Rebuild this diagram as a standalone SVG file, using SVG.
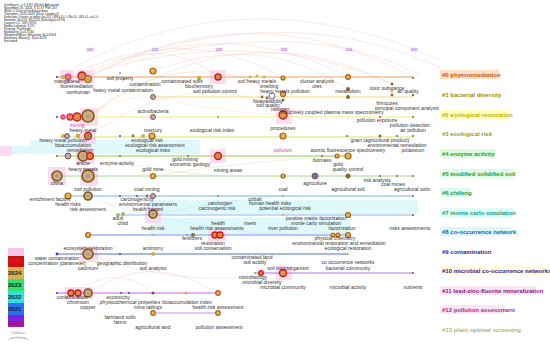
<svg xmlns="http://www.w3.org/2000/svg" width="550" height="347" viewBox="0 0 550 347">
<style>
text{font-family:"Liberation Sans",Arial,Helvetica,sans-serif}
.l{font-size:5px;fill:#333;text-anchor:middle}
.pk{fill:#e0409a}
.c{font-size:6px;font-weight:bold}
.yr{font-size:2.8px;fill:#9040d0;text-anchor:middle}
.info{font-size:3.2px;fill:#222}
.arc{fill:none;stroke:#f2c9bd;stroke-width:0.6;opacity:0.7}
.lnk{fill:none;stroke-width:0.5;opacity:0.45}
.tl{stroke-width:1.2;fill:none}
.hl{fill:#fbd6ee;opacity:0.85}
.band{fill:#dcf7fa;opacity:0.9}
.rr{fill:#e08a40;stroke:#c81818;stroke-width:1.3}
.or{fill:#dbb456;stroke:#b06010;stroke-width:1.2}
.br{fill:#cdb070;stroke:#7e5418;stroke-width:1.6}
.pr{fill:#c0a0d0;stroke:#8a5a30;stroke-width:1}
.ctr{fill:#a888d0}
.dot{fill:#8a6a38}
.yd{fill:#d0b048}
.bd{fill:#3838e0}
.leg{font-size:6px;font-weight:bold}
</style>

<g id="arcs">
<path class="arc" d="M88 77 Q250 -10 413 77"/>
<path class="arc" d="M88 77 Q220 10 348 77"/>
<path class="arc" d="M68 77 Q180 20 283 77"/>
<path class="arc" d="M82 77 Q160 30 218 77"/>
<path class="arc" d="M88 117 Q250 0 413 95"/>
<path class="arc" d="M57 77 Q240 -30 440 60"/>
<path class="arc" d="M120 60 Q300 0 445 70"/>
<path class="arc" d="M150 55 Q320 20 420 75"/>
<path class="arc" d="M100 70 Q260 25 392 84"/>
<path class="arc" d="M153 71 Q260 30 348 89"/>
<path class="arc" d="M88 117 Q180 40 283 94"/>
<path class="arc" d="M88 136 Q200 60 283 115"/>
<path class="arc" d="M90 293 Q150 250 218 293"/>
<path class="arc" d="M71 293 Q120 262 153 293"/>
</g>

<g id="bands">
<rect class="band" x="30" y="140" width="170" height="14"/>
<rect class="band" x="150" y="200" width="268" height="14"/>
<rect class="band" x="150" y="218" width="200" height="16"/>
<rect class="band" x="0" y="146" width="30" height="8" opacity="0.5"/>
<rect class="hl" x="60" y="70" width="14" height="14"/>
<rect class="hl" x="76" y="70" width="18" height="14"/>
<rect class="hl" x="210" y="70" width="16" height="14"/>
<rect class="hl" x="80" y="108" width="18" height="18"/>
<rect class="hl" x="276" y="108" width="16" height="16"/>
<rect class="hl" x="80" y="130" width="16" height="14"/>
<rect class="hl" x="76" y="148" width="18" height="16"/>
<rect class="hl" x="210" y="149" width="16" height="14"/>
<rect class="hl" x="48" y="167" width="18" height="18"/>
<rect class="hl" x="80" y="168" width="18" height="18"/>
<rect class="hl" x="145" y="207" width="16" height="16"/>
<rect class="hl" x="208" y="229" width="18" height="12"/>
<rect class="hl" x="80" y="246" width="18" height="16"/>
<rect class="hl" x="276" y="266" width="16" height="14"/>
<rect class="hl" x="65" y="287" width="28" height="12"/>
<rect class="hl" x="0" y="146" width="12" height="10" opacity="0.5"/>
</g>

<g id="years">
<rect x="86" y="47.5" width="8" height="4" fill="#f8e4fa"/><text class="yr" x="90" y="50.5">2020</text>
<rect x="151" y="47.5" width="8" height="4" fill="#f8e4fa"/><text class="yr" x="155" y="50.5">2021</text>
<rect x="215" y="47.5" width="8" height="4" fill="#f8e4fa"/><text class="yr" x="219" y="50.5">2022</text>
<rect x="280" y="47.5" width="8" height="4" fill="#f8e4fa"/><text class="yr" x="284" y="50.5">2023</text>
<rect x="345" y="47.5" width="8" height="4" fill="#f8e4fa"/><text class="yr" x="349" y="50.5">2024</text>
<rect x="410" y="47.5" width="8" height="4" fill="#f8e4fa"/><text class="yr" x="414" y="50.5">2025</text>
</g>

<g id="connectors">
<path class="lnk" stroke="#9cd070" d="M88 156 Q150 170 218 176"/>
<path class="lnk" stroke="#9cd070" d="M153 176 Q250 160 348 156"/>
<path class="lnk" stroke="#80c8e0" d="M153 215 Q220 200 283 196"/>
<path class="lnk" stroke="#80c8e0" d="M88 196 Q120 210 153 215"/>
<path class="lnk" stroke="#a0c0f0" d="M153 215 Q250 240 348 235"/>
<path class="lnk" stroke="#c0a0f0" d="M88 254 Q180 290 283 273"/>
<path class="lnk" stroke="#f0d070" d="M153 97 Q200 110 283 115"/>
<path class="lnk" stroke="#f0d070" d="M88 117 Q120 95 153 97"/>
<path class="tl" stroke="#e2a46c" d="M57 77H413"/>
<path class="tl" stroke="#f0e070" d="M150 97H413"/>
<path class="tl" stroke="#f2f27a" d="M57 117H413"/>
<path class="tl" stroke="#d8e65a" d="M60 137H413"/>
<path class="tl" stroke="#98cc52" d="M57 156H348"/>
<path class="tl" stroke="#a8d890" d="M57 176H413"/>
<path class="tl" stroke="#74b8e2" d="M68 196H413"/>
<path class="tl" stroke="#8ab8ea" d="M120 215H413"/>
<path class="tl" stroke="#7090e8" d="M88 235H348"/>
<path class="tl" stroke="#5070d8" d="M57 254H348"/>
<path class="tl" stroke="#a878e0" d="M255 273H413"/>
<path class="tl" stroke="#c868d8" d="M57 293H218"/>
<path class="tl" stroke="#c890e0" d="M153 313H218"/>
</g>

<g id="nodes">
<g id="r0">
<circle class="bd" cx="57" cy="77" r="1"/>
<circle class="yd" cx="63" cy="77" r="2"/>
<g id="n-manganese"><circle class="rr" cx="68" cy="77" r="2.8" style="stroke:#e0408a"/><circle class="ctr" cx="68" cy="77" r="1"/></g>
<g id="n-remediation0"><circle class="rr" cx="82" cy="76" r="4"/><circle class="ctr" cx="82" cy="76" r="1.3"/></g>
<g id="n-nonhuman"><circle class="or" cx="88" cy="79" r="3.3"/><circle class="ctr" cx="88" cy="79" r="1"/></g>
<circle class="bd" cx="120" cy="73" r="0.8"/>
<circle class="yd" cx="124" cy="79" r="0.9"/>
<g id="n-contamination"><circle class="or" cx="153" cy="71" r="3"/></g>
<circle class="yd" cx="199" cy="78" r="2.3"/>
<g id="n-soilpollutioncontrol"><circle class="rr" cx="218" cy="77" r="3"/><circle class="ctr" cx="218" cy="77" r="1"/></g>
<circle class="yd" cx="250" cy="77" r="1.4"/>
<circle class="yd" cx="257" cy="76" r="1.4"/>
<circle class="yd" cx="264" cy="77" r="1.4"/>
<circle class="or" cx="283" cy="78" r="2"/>
<circle class="or" cx="348" cy="77" r="2.4"/>
<circle class="dot" cx="413" cy="78" r="1.1"/>
</g>
<g id="r1">
<g id="n-actinobacteria"><circle class="pr" cx="153" cy="97" r="2.5"/></g>
<circle class="dot" cx="262" cy="97" r="1.4"/>
<circle class="dot" cx="267" cy="98" r="1.4"/>
<g id="n-bioavailability"><circle cx="272" cy="96" r="3" fill="none" stroke="#7040c0" stroke-width="0.9"/></g>
<circle class="or" cx="283" cy="94" r="2.5"/>
<circle class="dot" cx="283" cy="100" r="1.4"/>
<circle class="dot" cx="348" cy="89" r="2"/>
<circle class="dot" cx="348" cy="97" r="2"/>
<circle class="dot" cx="392" cy="84" r="1.4"/>
<circle class="yd" cx="392" cy="91" r="1.4"/>
<circle class="dot" cx="392" cy="95" r="1.4"/>
<circle class="dot" cx="413" cy="95" r="1.2"/>
</g>
<g id="r2">
<circle class="bd" cx="57" cy="117" r="1"/>
<circle class="rr" cx="63" cy="117" r="2" style="stroke:#e04090"/>
<circle class="rr" cx="70" cy="117" r="3" style="stroke:#e02060"/>
<g id="n-mining"><circle class="rr" cx="77" cy="117" r="4"/></g>
<g id="n-heavymetal"><circle class="br" cx="88" cy="116" r="6"/><circle class="ctr" cx="88" cy="116" r="1.8"/></g>
<g id="n-mercury"><circle class="pr" cx="153" cy="117" r="2.5"/></g>
<circle fill="#40a0a0" cx="218" cy="117" r="0.9"/>
<g id="n-procedures"><circle class="rr" cx="283" cy="115" r="4"/><circle class="yd" cx="283" cy="115" r="1.8"/></g>
<circle class="dot" cx="380" cy="117" r="1"/>
<circle class="dot" cx="413" cy="117" r="1"/>
</g>
<g id="r3">
<circle class="yd" cx="63" cy="136" r="2"/>
<g id="n-hmpollution"><circle class="pr" cx="67" cy="136" r="2.5"/></g>
<circle class="yd" cx="78" cy="136" r="2.4"/>
<g id="n-bioaccumulation"><circle class="rr" cx="88" cy="136" r="3.5"/><circle fill="#30b080" cx="88" cy="136" r="1.6"/></g>
<circle class="bd" cx="120" cy="136" r="0.9"/>
<circle class="dot" cx="133" cy="136" r="1.4"/>
<circle class="yd" cx="143" cy="136" r="2"/>
<g id="n-ecorisk"><circle class="or" cx="152" cy="136" r="3"/></g>
<circle class="or" cx="283" cy="136" r="3"/>
<circle class="dot" cx="347" cy="136" r="1"/>
<circle class="dot" cx="380" cy="136" r="1.4"/>
<circle class="dot" cx="397" cy="136" r="1"/>
<circle class="dot" cx="413" cy="136" r="1"/>
</g>
<g id="r4">
<circle class="dot" cx="57" cy="156" r="1"/>
<circle class="pr" cx="68" cy="156" r="3"/>
<g id="n-heavymetals"><circle class="br" cx="83" cy="156" r="5"/><circle class="ctr" cx="83" cy="156" r="1.6"/></g>
<circle class="rr" cx="90" cy="156" r="3.3"/>
<circle class="dot" cx="120" cy="156" r="0.9"/>
<circle class="dot" cx="188" cy="156" r="0.9"/>
<g id="n-goldmining"><circle class="rr" cx="218" cy="156" r="3.5"/><circle class="ctr" cx="218" cy="156" r="1"/></g>
<circle class="dot" cx="322" cy="156" r="1"/>
<circle class="or" cx="337" cy="156" r="2"/>
<g id="n-gold"><circle class="or" cx="348" cy="156" r="3"/></g>
</g>
<g id="r5">
<g id="n-china"><circle class="br" cx="57" cy="176" r="5"/><circle class="ctr" cx="57" cy="176" r="1.6"/></g>
<g id="n-soilpollution"><circle class="br" cx="88" cy="176" r="6"/><circle class="ctr" cx="88" cy="176" r="1.8"/></g>
<g id="n-goldmine"><circle class="or" cx="153" cy="176" r="2.5"/></g>
<circle class="or" cx="283" cy="176" r="2"/>
<g id="n-agriculture"><circle cx="315" cy="176" r="3" fill="#8a6a90" stroke="#6a4a50" stroke-width="0.8"/></g>
<circle class="dot" cx="348" cy="176" r="2.5"/>
<circle class="dot" cx="380" cy="176" r="1"/>
<circle class="dot" cx="397" cy="176" r="1"/>
<circle class="dot" cx="413" cy="176" r="1"/>
</g>
<g id="r6">
<circle class="or" cx="68" cy="196" r="3"/>
<g id="n-riskassessment"><circle class="br" cx="88" cy="196" r="4"/><circle class="ctr" cx="88" cy="196" r="1.3"/></g>
<circle class="bd" cx="120" cy="196" r="0.9"/>
<circle class="bd" cx="137" cy="196" r="0.9"/>
<circle class="dot" cx="147" cy="196" r="1.4"/>
<g id="n-carcinogenicity"><circle class="pr" cx="153" cy="196" r="2.5"/></g>
<circle fill="#40a0c0" cx="218" cy="196" r="0.9"/>
<circle class="yd" cx="283" cy="196" r="0.9"/>
<circle class="dot" cx="413" cy="196" r="0.9"/>
</g>
<g id="r7">
<circle fill="#a8b870" cx="118" cy="215" r="2"/>
<circle fill="#a8b870" cx="123" cy="214" r="2"/>
<g id="n-healthhazard"><circle class="br" cx="153" cy="214" r="4"/><circle class="ctr" cx="153" cy="214" r="1.3"/></g>
<circle class="yd" cx="283" cy="215" r="1"/>
<g id="n-pmf"><circle class="or" cx="348" cy="215" r="2.5"/></g>
<circle class="dot" cx="413" cy="215" r="1.1"/>
</g>
<g id="r8">
<g id="n-healthrisk"><circle class="or" cx="88" cy="235" r="2.5"/></g>
<circle class="yd" cx="153" cy="235" r="1"/>
<circle fill="#70b070" cx="187" cy="235" r="1"/>
<circle class="dot" cx="193" cy="235" r="2"/>
<g id="n-restoration"><circle class="rr" cx="215" cy="235" r="3"/><circle class="rr" cx="220" cy="235" r="3"/></g>
<circle class="or" cx="333" cy="235" r="2"/>
<circle class="or" cx="338" cy="235" r="2"/>
<circle class="or" cx="348" cy="235" r="2.5"/>
</g>
<g id="r9">
<circle class="bd" cx="57" cy="254" r="1.4"/>
<g id="n-cadmium"><circle class="br" cx="88" cy="254" r="5"/><circle class="ctr" cx="88" cy="254" r="1.6"/></g>
<circle class="bd" cx="120" cy="254" r="0.9"/>
<g id="n-antimony"><circle class="yd" cx="153" cy="254" r="2"/></g>
<circle class="yd" cx="283" cy="254" r="1"/>
<circle class="yd" cx="348" cy="254" r="1"/>
</g>
<g id="r10">
<circle fill="#50c050" cx="255" cy="273" r="1"/>
<g id="n-microbialdiversity"><circle class="rr" cx="261" cy="273" r="2.3"/></g>
<g id="n-microbialcommunity"><circle class="rr" cx="283" cy="273" r="3.5"/><circle class="yd" cx="283" cy="273" r="1.6"/></g>
<circle class="dot" cx="413" cy="273" r="1.1"/>
</g>
<g id="r11">
<circle class="bd" cx="57" cy="293" r="1"/>
<circle class="rr" cx="71" cy="293" r="3"/>
<g id="n-chromium"><circle class="rr" cx="78" cy="293" r="3"/></g>
<g id="n-copper"><circle class="br" cx="88" cy="293" r="4"/><circle class="ctr" cx="88" cy="293" r="1.3"/></g>
<circle class="bd" cx="121" cy="293" r="0.9"/>
<circle class="bd" cx="129" cy="293" r="0.9"/>
<g id="n-minetailings"><circle fill="#6a4a50" cx="153" cy="293" r="1.5"/></g>
<circle class="yd" cx="186" cy="293" r="1.4"/>
<g id="n-hra"><circle class="or" cx="218" cy="293" r="2.3"/></g>
</g>
<g id="r12">
<g id="n-agriland"><circle class="or" cx="153" cy="313" r="2.3" style="fill:#d0c070"/></g>
<g id="n-pollutionassessment"><circle class="or" cx="218" cy="313" r="2.3" style="fill:#d0c070"/></g>
</g>
</g>

<g id="labels">
<text class="l" x="67" y="83">manganese</text>
<text class="l" x="77" y="88">bioremediation</text>
<text class="l" x="78" y="94">nonhuman</text>
<text class="l" x="120" y="80">soil property</text>
<text class="l" x="123" y="92">heavy metal contamination</text>
<text class="l" x="145" y="86">contamination</text>
<text class="l" x="182" y="83">contaminated soils</text>
<text class="l" x="199" y="88">biochemistry</text>
<text class="l" x="215" y="93">soil pollution control</text>
<text class="l" x="257" y="83">soil heavy metals</text>
<text class="l" x="269" y="88">smelting</text>
<text class="l" x="285" y="93">heavy metals pollution</text>
<text class="l" x="317" y="83">cluster analysis</text>
<text class="l" x="317" y="88">ores</text>
<text class="l" x="348" y="93">metabolism</text>
<text class="l" x="387" y="90">toxic substance</text>
<text class="l" x="408" y="93">air quality</text>

<text class="l" x="268" y="102.5">bioavailability</text>
<text class="l" x="268" y="107">soil quality</text>
<text class="l" x="280" y="110.5">nitrogen</text>
<text class="l" x="332" y="114">inductively coupled plasma mass spectrometry</text>
<text class="l" x="387" y="105">firmicutes</text>
<text class="l" x="407" y="110">principal component analysis</text>
<text class="l" x="153" y="113">actinobacteria</text>
<text class="l" x="377" y="122">pollution exposure</text>
<text class="l" x="410" y="127">pollution detection</text>
<text class="l" x="413" y="132">air pollution</text>

<text class="l pk" x="77" y="127">mining</text>
<text class="l" x="83" y="132">heavy metal</text>
<text class="l" x="153" y="132">mercury</text>
<text class="l" x="212" y="132">ecological risk index</text>
<text class="l" x="283" y="130">procedures</text>

<text class="l" x="63" y="142">heavy metal pollution</text>
<text class="l" x="147" y="142">ecological risk</text>
<text class="l" x="73" y="147">bioaccumulation</text>
<text class="l" x="155" y="147">ecological risk assessment</text>
<text class="l" x="80" y="152">remediation</text>
<text class="l" x="153" y="152">ecological risks</text>
<text class="l pk" x="283" y="152">pollution</text>
<text class="l" x="348" y="152">atomic fluorescence spectrometry</text>
<text class="l" x="380" y="142">grain (agricultural product)</text>
<text class="l" x="397" y="147">environmental remediation</text>
<text class="l" x="413" y="152">potassium</text>

<text class="l" x="83" y="165">article</text>
<text class="l" x="117" y="165">enzyme activity</text>
<text class="l" x="83" y="171">heavy metals</text>
<text class="l" x="185" y="161">gold mining</text>
<text class="l" x="190" y="166">economic geology</text>
<text class="l" x="153" y="171">gold mine</text>
<text class="l" x="228" y="172">mining areas</text>
<text class="l" x="322" y="162">biomass</text>
<text class="l" x="338" y="166">gold</text>
<text class="l" x="348" y="171">quality control</text>

<text class="l" x="57" y="185">china</text>
<text class="l" x="315" y="185">agriculture</text>
<text class="l" x="377" y="182">risk analysis</text>
<text class="l" x="393" y="186">coal mines</text>
<text class="l" x="348" y="191">agricultural soil</text>
<text class="l" x="412" y="191">agricultural soils</text>
<text class="l" x="88" y="191">soil pollution</text>
<text class="l" x="147" y="191">coal mining</text>
<text class="l" x="283" y="191">coal</text>

<text class="l" x="50" y="201">enrichment factors</text>
<text class="l" x="68" y="206">health risks</text>
<text class="l" x="137" y="201">carcinogenicity</text>
<text class="l" x="148" y="206">environmental parameters</text>
<text class="l" x="88" y="211">risk assessment</text>
<text class="l" x="148" y="211">health hazard</text>
<text class="l" x="220" y="204.5">carcinogen</text>
<text class="l" x="217" y="209.5">carcinogenic risk</text>
<text class="l" x="255" y="201">cobalt</text>
<text class="l" x="270" y="205">human health risks</text>
<text class="l" x="285" y="210">potential ecological risk</text>

<text class="l" x="118" y="220">adult</text>
<text class="l" x="123" y="225">child</text>
<text class="l" x="316" y="220">positive matrix factorization</text>
<text class="l" x="316" y="225">monte carlo simulation</text>
<text class="l" x="342" y="230">factorization</text>
<text class="l" x="410" y="230">risks assessments</text>
<text class="l" x="218" y="225">health</text>
<text class="l" x="250" y="225">rivers</text>
<text class="l" x="217" y="230">health risk assessments</text>
<text class="l" x="283" y="230">river pollution</text>
<text class="l" x="153" y="230">health risk</text>

<text class="l" x="192" y="240">fertilizers</text>
<text class="l" x="335" y="240">physical chemistry</text>
<text class="l" x="213" y="245">restoration</text>
<text class="l" x="213" y="250">soil conservation</text>
<text class="l" x="339" y="245">environmental restoration and remediation</text>
<text class="l" x="348" y="250">ecological restoration</text>

<text class="l" x="88" y="250">ecosystem restoration</text>
<text class="l" x="153" y="250">antimony</text>
<text class="l" x="57" y="260">water contamination</text>
<text class="l" x="57" y="264.5">concentration (parameter)</text>
<text class="l" x="122" y="264.5">geographic distribution</text>
<text class="l" x="88" y="270">cadmium</text>
<text class="l" x="153" y="270">soil analysis</text>
<text class="l" x="252" y="259">contaminated land</text>
<text class="l" x="255" y="264">soil acidity</text>
<text class="l" x="288" y="270">soil microorganism</text>
<text class="l" x="348" y="264">co occurrence networks</text>
<text class="l" x="348" y="270">bacterial community</text>

<text class="l" x="253" y="279">microbiology</text>
<text class="l" x="262" y="284">microbial diversity</text>
<text class="l" x="283" y="289">microbial community</text>
<text class="l" x="348" y="289">microbial activity</text>
<text class="l" x="413" y="289">nutrients</text>

<text class="l" x="72" y="299">contamination</text>
<text class="l" x="78" y="304">chromium</text>
<text class="l" x="88" y="309">copper</text>
<text class="l" x="118" y="299">ecotoxicity</text>
<text class="l" x="130" y="304">physicochemical properties</text>
<text class="l" x="148" y="309">mine tailings</text>
<text class="l" x="187" y="304">bioaccumulation index</text>
<text class="l" x="218" y="309">health risk assessment</text>
<text class="l" x="120" y="319">farmland soils</text>
<text class="l" x="120" y="324">farms</text>

<text class="l" x="153" y="329">agricultural land</text>
<text class="l" x="219" y="329">pollution assessment</text>
</g>

<g id="clusters">
<rect x="440" y="70" width="59" height="9" fill="#fde0c8"/>
<text class="c" x="442" y="77" fill="#c85a18">#0 phytoremediation</text>
<text class="c" x="442" y="97" fill="#9a8a10">#1 bacterial diversity</text>
<rect x="440" y="110" width="70" height="9" fill="#ffffc4"/>
<text class="c" x="442" y="117" fill="#c0b000">#2 ecological restoration</text>
<text class="c" x="442" y="136" fill="#88a020">#3 ecological risk</text>
<rect x="440" y="149" width="55" height="9" fill="#dcfbe4"/>
<text class="c" x="442" y="156" fill="#3a9a20">#4 enzyme activity</text>
<rect x="440" y="169" width="74" height="9" fill="#dcfbe8"/>
<text class="c" x="442" y="176" fill="#2a9a30">#5 modified solidified soil</text>
<rect x="440" y="188" width="30" height="9" fill="#dcfbef"/>
<text class="c" x="442" y="195" fill="#1a9a5a">#6 chifeng</text>
<rect x="440" y="208" width="73" height="9" fill="#dcfdf5"/>
<text class="c" x="442" y="215" fill="#1a9a80">#7 monte carlo simulation</text>
<rect x="440" y="227" width="72" height="9" fill="#dcf7fa"/>
<text class="c" x="442" y="234" fill="#1a6aa0">#8 co-occurrence network</text>
<text class="c" x="442" y="254" fill="#203090">#9 contamination</text>
<rect x="440" y="266" width="108" height="9" fill="#fffbe0"/>
<text class="c" x="442" y="273" fill="#40208a">#10 microbial co-occurrence networks</text>
<rect x="440" y="286" width="96" height="9" fill="#fde6f4"/>
<text class="c" x="442" y="293" fill="#7a2090">#11 lead-zinc-fluorite mineralization</text>
<rect x="440" y="305" width="64" height="9" fill="#fde6f4"/>
<text class="c" x="442" y="312" fill="#a03090">#12 pollution assessment</text>
<text class="c" x="442" y="332" fill="#b4b478">#13 plant optimal screening</text>
</g>

<g id="legend">
<rect x="8" y="248" width="16" height="8" fill="#f6c4ea"/>
<rect x="8" y="256" width="16" height="11" fill="#c41414"/>
<rect x="8" y="267" width="16" height="12" fill="#d8b050"/>
<rect x="8" y="279" width="16" height="12" fill="#30e070"/>
<rect x="8" y="291" width="16" height="12" fill="#30e0e0"/>
<rect x="8" y="303" width="16" height="12" fill="#3070f0"/>
<rect x="8" y="315" width="16" height="12" fill="#8020e0"/>
<text class="leg" x="8" y="263" fill="#ff1010">2025</text>
<text class="leg" x="8" y="275" fill="#1a1a1a">2024</text>
<text class="leg" x="8" y="287" fill="#1a1a1a">2023</text>
<text class="leg" x="8" y="299" fill="#1a1a1a">2022</text>
<text class="leg" x="8" y="311" fill="#1a1a1a">2021</text>
<text class="leg" x="8" y="325" fill="#d00030">2020</text>
<text x="18" y="334" font-size="3" fill="#888" text-anchor="middle" font-style="italic">CiteSpace</text>
<path d="M8 340 Q18 334 29 340 M10 338 H27" stroke="#999" stroke-width="0.5" fill="none"/>
</g>

<g id="info">
<text class="info" x="4" y="6">CiteSpace, v. 6.3.R1 (64-bit) Advanced</text>
<text class="info" x="4" y="9">November 26, 2024, 3:11:37 PM CST</text>
<text class="info" x="4" y="12">WoS: C:\Users\CiteSpace\data</text>
<text class="info" x="4" y="15">Timespan: 2020-2025 (Slice Length=1)</text>
<text class="info" x="4" y="18">Selection Criteria: g-index (k=25), LRF=3.0, L/N=10, LBY=5, e=1.0</text>
<text class="info" x="4" y="21">Network: N=374, E=1224 (Density=0.0176)</text>
<text class="info" x="4" y="24">Largest CC: 339 (90%)</text>
<text class="info" x="4" y="27">Nodes Labeled: 1.0%</text>
<text class="info" x="4" y="30">Pruning: Pathfinder</text>
<text class="info" x="4" y="33">Modularity Q=0.7534</text>
<text class="info" x="4" y="36">Weighted Mean Silhouette S=0.9053</text>
<text class="info" x="4" y="39">Harmonic Mean(Q, S)=0.8225</text>
<text class="info" x="4" y="42">Excluded:</text>
</g>
</svg>
